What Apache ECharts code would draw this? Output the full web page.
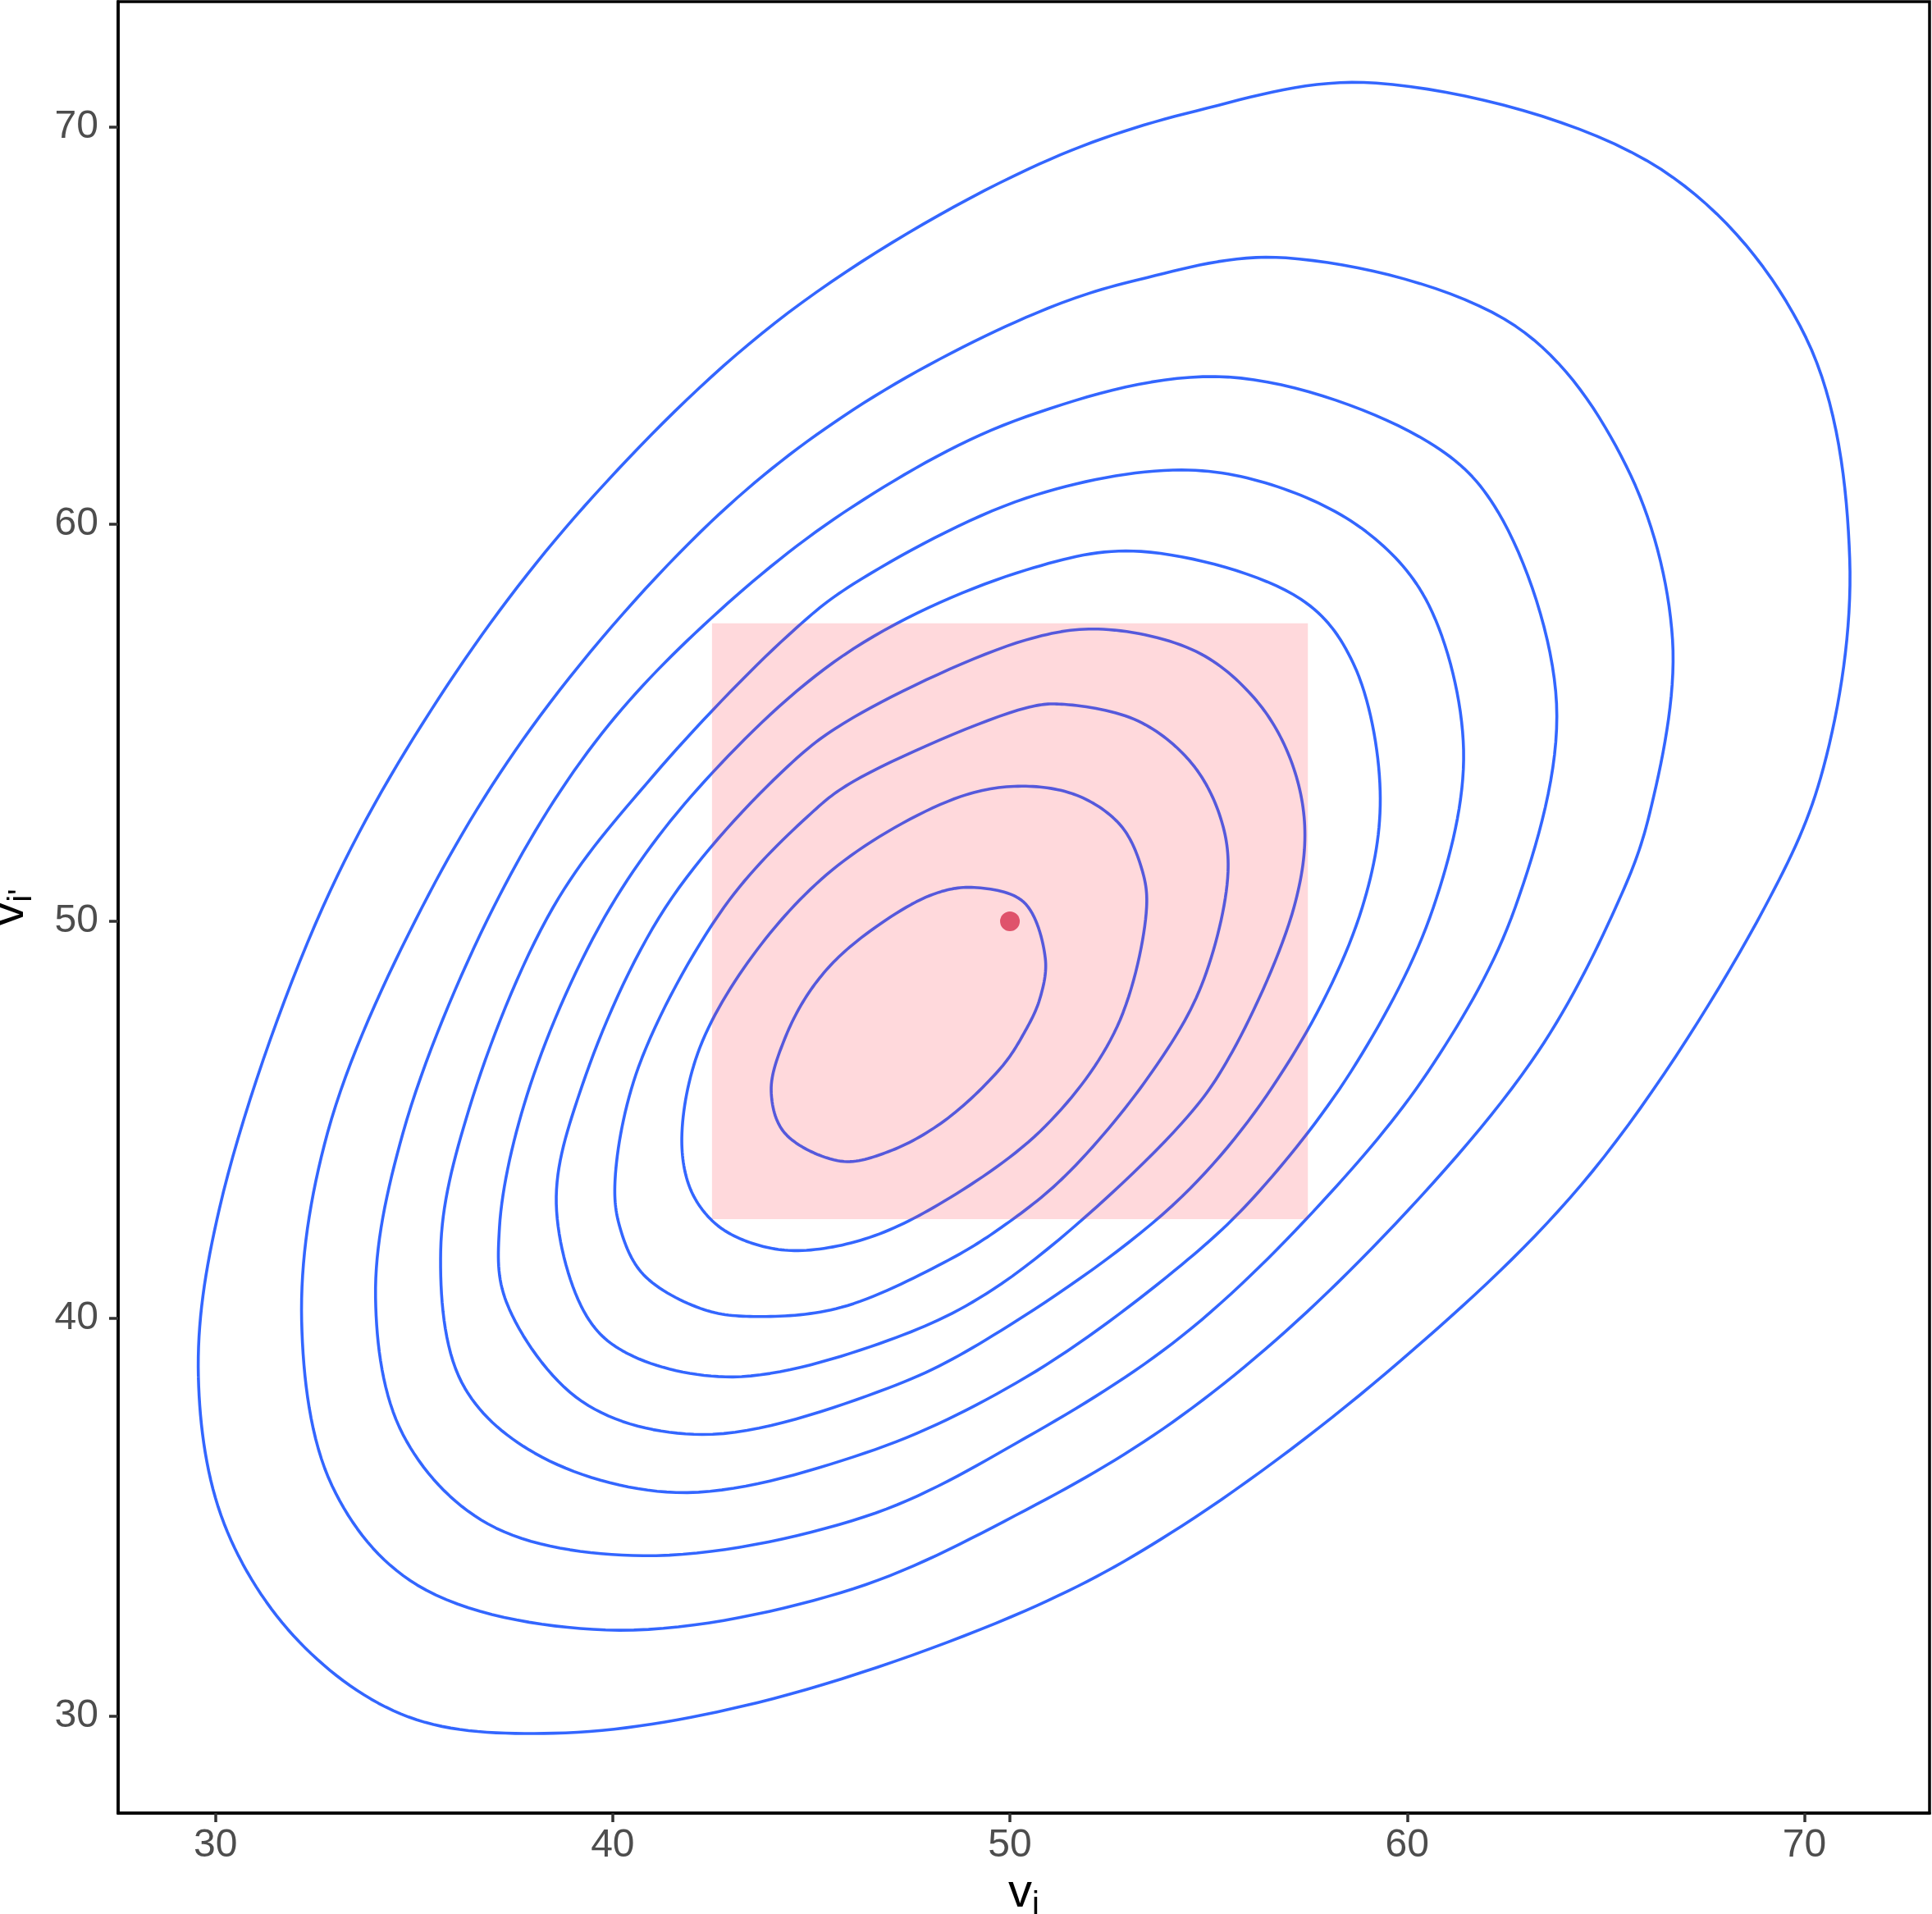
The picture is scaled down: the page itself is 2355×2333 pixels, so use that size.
<!DOCTYPE html>
<html>
<head>
<meta charset="utf-8">
<script src="https://cdn.jsdelivr.net/npm/echarts@6.0.0/dist/echarts.min.js"></script>
<style>
  html, body { margin: 0; padding: 0; background: #fff; }
  #chart { width: 2355px; height: 2333px; }
</style>
</head>
<body>
<div id="chart"></div>
<script>
// axis ticks
var xTicks = [30, 40, 50, 60, 70];
var yTicks = [30, 40, 50, 60, 70];
var axisMin = 27.55, axisMax = 73.15;

// shaded square and marked point
var rectX = [42.5, 57.5];
var rectY = [42.5, 57.5];
var point = [50, 50];

// density contour lines, innermost first
var contour1 = [[43.99,45.74],[44.33,47.04],[45.04,48.35],[46.05,49.42],[47.99,50.65],[49.10,50.85],[50.35,50.48],[50.89,49.07],[50.75,48.04],[50.33,47.14],[49.78,46.32],[48.34,44.97],[46.94,44.20],[45.75,43.96],[44.33,44.67]];
var contour2 = [[41.74,44.55],[42.19,46.81],[43.74,49.42],[45.83,51.53],[48.76,53.14],[50.40,53.40],[51.76,53.14],[52.79,52.41],[53.30,51.38],[53.44,50.35],[52.70,47.35],[50.90,44.85],[48.34,42.95],[46.34,42.00],[44.57,41.71],[43.38,41.94],[42.55,42.42],[41.96,43.25]];
var contour3 = [[40.06,43.49],[40.65,46.33],[42.80,50.35],[44.91,52.64],[46.06,53.52],[50.40,55.37],[51.37,55.46],[53.23,55.04],[54.54,54.02],[55.27,52.70],[55.49,51.24],[54.82,48.38],[53.50,46.10],[51.40,43.60],[49.78,42.29],[48.34,41.41],[45.75,40.28],[43.74,40.05],[42.31,40.22],[40.77,41.11],[40.18,42.30]];
var contour4 = [[38.58,42.89],[39.23,45.86],[41.33,50.35],[44.42,53.91],[46.06,55.13],[50.40,57.08],[52.35,57.35],[54.69,56.79],[56.15,55.62],[57.03,54.16],[57.42,52.41],[57.15,50.35],[55.60,46.72],[54.33,44.92],[49.78,40.87],[46.94,39.45],[43.02,38.53],[40.41,39.10],[39.35,40.05]];
var contour5 = [[37.15,42.30],[37.92,45.86],[39.94,50.35],[42.52,53.75],[46.06,56.86],[50.40,58.84],[53.30,59.31],[57.32,58.11],[58.64,56.50],[59.32,53.28],[58.87,50.35],[57.06,46.53],[54.33,43.07],[49.78,39.70],[46.94,38.25],[42.25,37.08],[39.23,37.91],[37.33,40.40]];
var contour6 = [[35.67,41.71],[36.38,45.26],[38.50,50.35],[41.01,53.65],[44.42,57.20],[46.06,58.49],[50.40,60.65],[54.32,61.36],[56.88,60.89],[59.08,59.72],[60.54,57.97],[61.42,54.31],[60.66,50.35],[58.72,46.43],[56.28,43.21],[54.33,41.36],[50.40,38.52],[46.34,36.61],[41.60,35.62],[38.04,36.61],[36.20,38.39]];
var contour7 = [[34.03,40.52],[34.72,44.67],[37.00,50.35],[39.55,54.50],[42.47,57.62],[46.06,60.45],[50.40,62.70],[55.49,63.70],[60.54,62.06],[62.29,60.30],[63.76,55.48],[62.72,50.35],[60.67,46.43],[58.03,43.12],[54.33,39.56],[50.40,37.00],[46.34,35.01],[40.77,34.03],[36.86,34.83],[34.72,37.08]];
var contour8 = [[32.17,39.93],[32.82,44.67],[35.20,50.35],[38.18,55.18],[42.47,60.05],[46.06,62.88],[50.40,65.20],[53.23,66.15],[56.95,66.70],[62.73,64.98],[65.51,61.47],[66.68,57.09],[66.10,52.70],[65.25,50.35],[63.10,46.43],[58.52,41.17],[54.33,37.56],[50.40,35.18],[45.75,33.10],[39.82,32.16],[35.08,33.29],[32.94,35.78]];
var contour9 = [[29.57,38.53],[30.10,42.77],[32.70,50.35],[35.85,55.96],[39.55,60.74],[44.42,65.32],[50.45,68.93],[54.69,70.40],[59.22,71.10],[66.39,68.93],[70.04,64.69],[71.14,59.13],[70.48,53.87],[69.00,50.35],[64.66,43.70],[59.79,38.90],[54.33,34.78],[50.40,32.65],[43.64,30.33],[38.52,29.56],[34.86,29.97],[32.11,31.86],[30.22,34.83]];

var contours = [contour1, contour2, contour3, contour4, contour5, contour6, contour7, contour8, contour9];

var FONT = '"Liberation Sans", Arial, Helvetica, sans-serif';
var LINE_BLUE = '#3366FF';

// closed centripetal Catmull-Rom through pixel points, sampled into a polyline
function closedSpline(pts) {
  var n = pts.length, out = [], steps = 16;
  function d(a, b) { return Math.sqrt((a[0] - b[0]) * (a[0] - b[0]) + (a[1] - b[1]) * (a[1] - b[1])); }
  for (var i = 0; i < n; i++) {
    var p0 = pts[(i - 1 + n) % n], p1 = pts[i], p2 = pts[(i + 1) % n], p3 = pts[(i + 2) % n];
    var l01 = Math.sqrt(d(p0, p1)), l12 = Math.sqrt(d(p1, p2)), l23 = Math.sqrt(d(p2, p3));
    var l01s = l01 * l01, l12s = l12 * l12, l23s = l23 * l23;
    var a = 2 * l01s + 3 * l01 * l12 + l12s, na = 3 * l01 * (l01 + l12);
    var b = 2 * l23s + 3 * l23 * l12 + l12s, nb = 3 * l23 * (l23 + l12);
    var c1 = [(p1[0] * a - p0[0] * l12s + p2[0] * l01s) / na, (p1[1] * a - p0[1] * l12s + p2[1] * l01s) / na];
    var c2 = [(p2[0] * b + p1[0] * l23s - p3[0] * l12s) / nb, (p2[1] * b + p1[1] * l23s - p3[1] * l12s) / nb];
    for (var s = 0; s < steps; s++) {
      var t = s / steps, u = 1 - t;
      out.push([
        u * u * u * p1[0] + 3 * u * u * t * c1[0] + 3 * u * t * t * c2[0] + t * t * t * p2[0],
        u * u * u * p1[1] + 3 * u * u * t * c1[1] + 3 * u * t * t * c2[1] + t * t * t * p2[1]
      ]);
    }
  }
  out.push(out[0]);
  return out;
}

var chart = echarts.init(document.getElementById('chart'), null, { renderer: 'canvas' });

// one closed curve per contour level
var series = contours.map(function (pts, i) {
  return {
    type: 'custom',
    name: 'level' + (i + 1),
    data: pts,
    z: 2,
    silent: true,
    renderItem: function (params, api) {
      if (params.dataIndex !== 0) return null;
      var px = pts.map(function (p) { return api.coord(p); });
      return {
        type: 'polyline',
        shape: { points: closedSpline(px) },
        style: { stroke: LINE_BLUE, lineWidth: 3.6, fill: null, lineJoin: 'round' }
      };
    }
  };
});

// translucent square over the lines
series.push({
  type: 'custom',
  z: 3,
  silent: true,
  data: [[rectX[0], rectY[0], rectX[1], rectY[1]]],
  renderItem: function (params, api) {
    var p0 = api.coord([api.value(0), api.value(3)]);
    var p1 = api.coord([api.value(2), api.value(1)]);
    return {
      type: 'rect',
      shape: { x: p0[0], y: p0[1], width: p1[0] - p0[0], height: p1[1] - p0[1] },
      style: { fill: 'rgba(255, 30, 50, 0.17)' }
    };
  }
});

series.push({
  type: 'scatter',
  data: [point],
  symbolSize: 24,
  itemStyle: { color: '#DF536B', opacity: 1 },
  z: 4,
  silent: true
});

var nameRich = {
  v: { fontSize: 58, lineHeight: 58, fontFamily: FONT, color: '#000', verticalAlign: 'top' },
  s: { fontSize: 40, lineHeight: 40, fontFamily: FONT, color: '#000', verticalAlign: 'top', padding: [24, 0, 0, 0] }
};

chart.setOption({
  animation: false,
  backgroundColor: '#ffffff',
  grid: {
    left: 144, top: 2, right: 3, bottom: 123,
    outerBoundsMode: 'none',
    containLabel: false,
    show: true, borderColor: '#000', borderWidth: 3.5, backgroundColor: 'transparent'
  },
  xAxis: {
    type: 'value',
    min: axisMin, max: axisMax,
    name: '{v|v}{s|i}',
    nameLocation: 'middle',
    nameGap: 64,
    nameTextStyle: { fontFamily: FONT, color: '#000', rich: nameRich },
    axisLine: { show: true, lineStyle: { color: '#000', width: 3.5 } },
    axisTick: { show: true, customValues: xTicks, length: 11, lineStyle: { color: '#333', width: 3.5 } },
    axisLabel: { customValues: xTicks, fontSize: 48, lineHeight: 48, color: '#4D4D4D', fontFamily: FONT, margin: 16 },
    splitLine: { show: false }
  },
  yAxis: {
    type: 'value',
    min: axisMin, max: axisMax,
    name: "{v|v}{s|i'}",
    nameLocation: 'middle',
    nameRotate: 90,
    nameGap: 103,
    nameTextStyle: { fontFamily: FONT, color: '#000', rich: nameRich },
    axisLine: { show: true, lineStyle: { color: '#000', width: 3.5 } },
    axisTick: { show: true, customValues: yTicks, length: 11, lineStyle: { color: '#333', width: 3.5 } },
    axisLabel: { customValues: yTicks, fontSize: 48, lineHeight: 48, color: '#4D4D4D', fontFamily: FONT, margin: 24 },
    splitLine: { show: false }
  },
  series: series
});
</script>
</body>
</html>
